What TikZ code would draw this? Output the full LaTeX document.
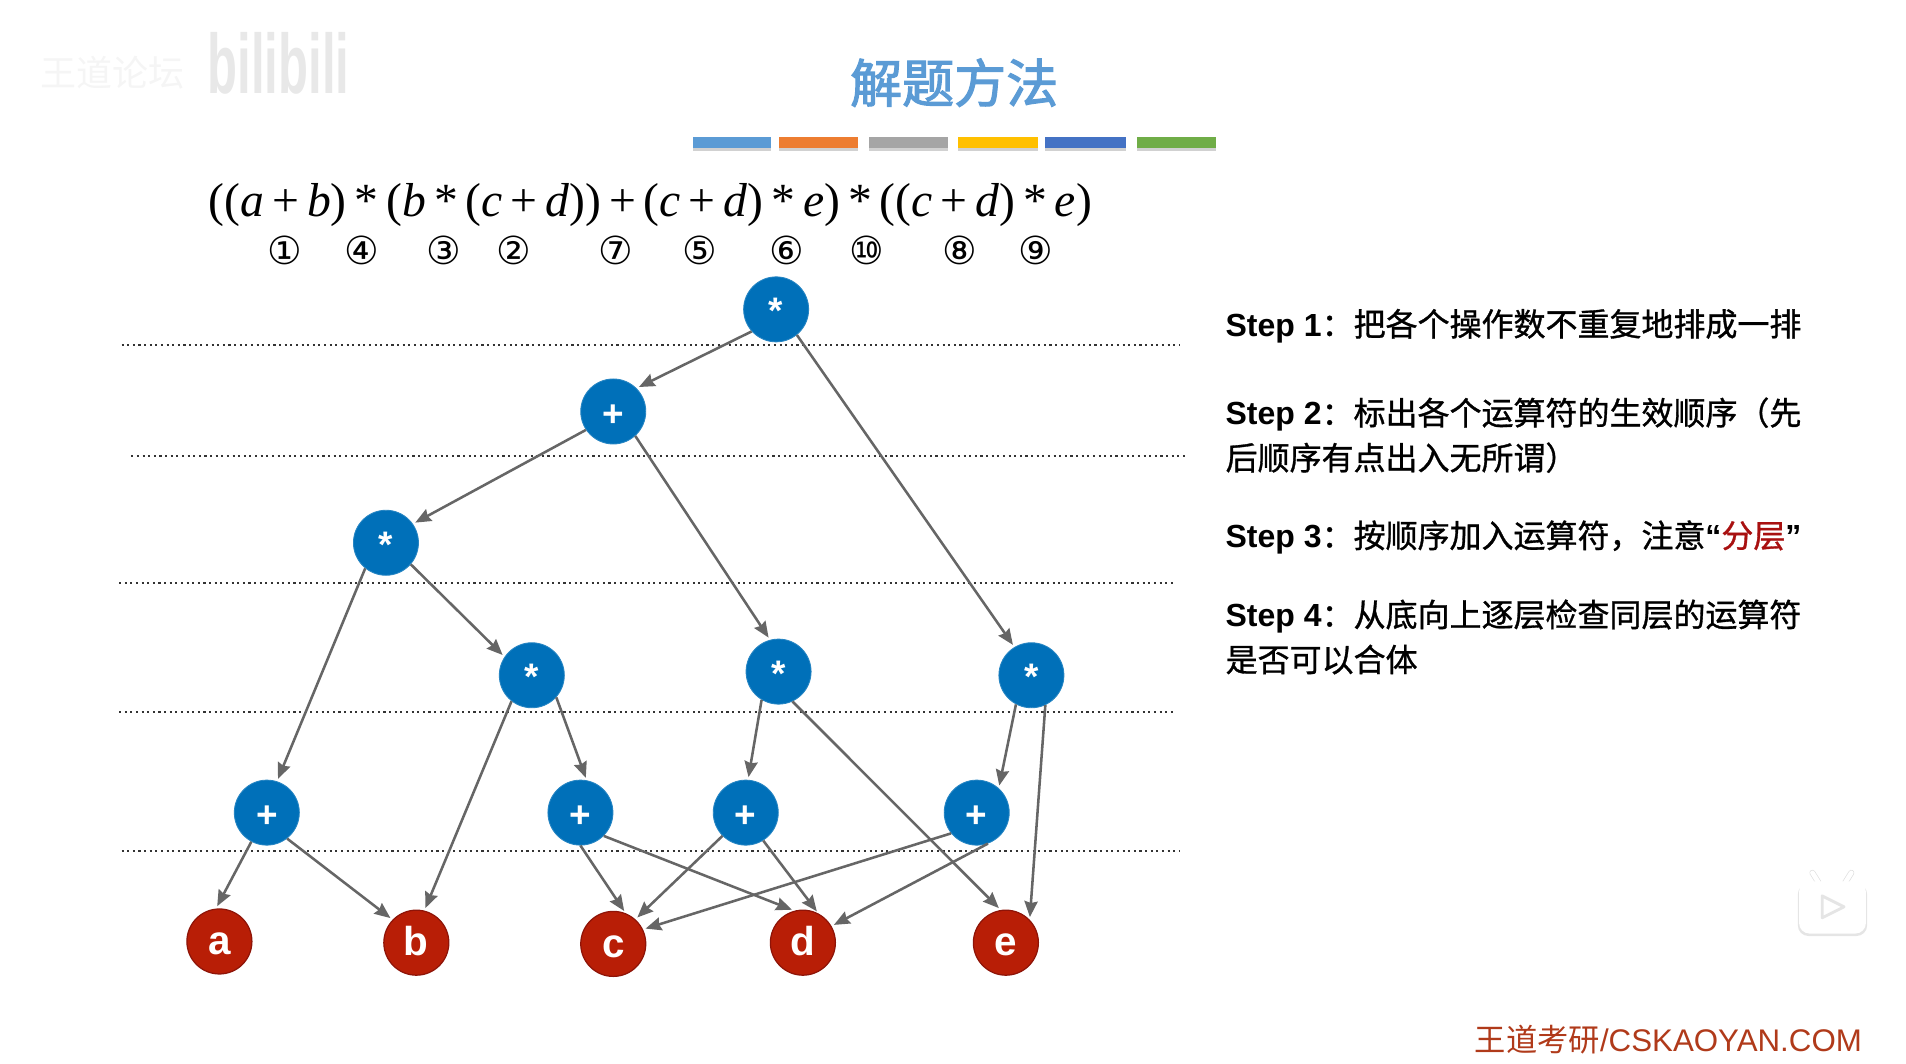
\documentclass[tikz,border=0pt]{standalone}
\usepackage{fontspec}
\setmainfont{Liberation Sans}
\newfontfamily\cjk[FakeBold=1]{Noto Sans CJK SC}
\newfontfamily\cjkhead[FakeBold=2.2]{Noto Sans CJK SC}
\newfontfamily\cjkplain{Noto Sans CJK SC}
\newfontfamily\formulafont{Liberation Serif}
\newfontfamily\circfont{DejaVu Sans}
\usepackage{xcolor}
\usetikzlibrary{arrows.meta}
\definecolor{opB}{HTML}{0070B9}
\definecolor{varR}{HTML}{B81E06}
\definecolor{varE}{HTML}{8E1408}
\definecolor{arrG}{HTML}{666666}
\definecolor{titleB}{HTML}{5B9BD5}
\definecolor{footR}{HTML}{B03A1A}
\definecolor{markR}{HTML}{A81010}
\tikzset{
  opnode/.style={circle, fill=opB, draw=opB!85!white, line width=0.5pt, minimum size=1.3cm,
    inner sep=0pt, text=white, text height=16.6pt, text depth=0pt, font=\fontsize{21}{24}\selectfont\bfseries},
  varnode/.style={circle, fill=varR, draw=varE, line width=0.7pt, minimum size=1.3cm,
    inner sep=0pt, text=white, text height=15pt, text depth=0pt, font=\fontsize{23}{26}\selectfont\bfseries},
  arr/.style={-{Stealth[length=9pt, width=7.5pt, inset=1pt]}, draw=arrG, line width=1.45pt, shorten >=1.5pt},
  levelline/.style={draw=black!80, line width=1.2pt, dash pattern=on 1.2pt off 2pt},
  stepnode/.style={anchor=west, align=left, inner sep=0pt, font=\fontsize{18.2}{25.6}\selectfont},
}
\newcommand{\stepcn}[2]{\textbf{Step #1}{\cjk #2}}
\begin{document}
\begin{tikzpicture}[x=0.24311mm, y=-0.24311mm]
  \useasboundingbox (0,0) rectangle (1568,875.3);
  % watermark
  \node[anchor=west, text=black!4, font=\fontsize{20.5}{22}\selectfont\cjkplain] (markWd) at (28,60) {王道论坛};
  \node[anchor=west, text=black!9, xscale=0.93, yscale=1.6, font=\fontsize{30}{32}\selectfont\bfseries] (markBl) at (166,52) {bilibili};
  % title and colour bars
  \node[text=titleB, font=\fontsize{29.6}{32}\selectfont\cjkhead] (title) at (785,68) {解题方法};
  \foreach \xa/\xb/\c in {570/634/5B9BD5,641/706/ED7D31,715/780/A5A5A5,788/854/FFC000,860/926/4472C4,935/1000/70AD47}{
    \definecolor{barC}{HTML}{\c}
    \fill[black!18] (\xa,115) rectangle (\xb,124);
    \fill[barC] (\xa,113) rectangle (\xb,122);
  }
  % expression
  \node[font=\fontsize{27.1}{30}\selectfont\formulafont] (expr) at (535,169)
    {((\textit{a}\,+\,\textit{b})\,*\,(\textit{b}\,*\,(\textit{c}\,+\,\textit{d}))\,+\,(\textit{c}\,+\,\textit{d})\,*\,\textit{e})\,*\,((\textit{c}\,+\,\textit{d})\,*\,\textit{e})};
  \foreach \x/\lab in {234/①,297/④,365/③,422/②,506/⑦,575/⑤,647/⑥,713/⑩,789/⑧,852/⑨}{
    \node[font=\fontsize{22}{24}\selectfont\circfont] at (\x+0.5,206) {\lab};
  }
  % level lines
  \foreach \y/\xa/\xb in {284/100/970,375/108/977,479.7/98/967,586/98/967,700/100/970}{
    \draw[levelline] (\xa,\y) -- (\xb,\y);
  }
  % operators
  \foreach \name/\x/\y/\lab in {mulRoot/638.5/254.5/*,addTop/504.5/338.5/+,mulLeft/317.5/446.5/*,mulMid/437.5/555.5/*,
      mulCen/640.5/552.5/*,mulRight/848.5/555.5/*,addA/219.5/668.5/+,addB/477.5/668.5/+,addC/613.5/668.5/+,addD/803.5/668.5/+}{
    \node[opnode] (\name) at (\x,\y) {\lab};
  }
  % operands
  \foreach \name/\x/\y/\lab in {varA/180.5/774.5/a,varB/342.5/775.5/b,varC/504.5/776.5/c,varD/660.5/775.5/d,varE/827.5/775.5/e}{
    \node[varnode] (\name) at (\x,\y) {\lab};
  }
  % edges
  \foreach \s/\sa/\t/\ta in {%
    mulRoot/222/addTop/45,
    mulRoot/309/mulRight/121,
    addTop/214/mulLeft/35,
    addTop/312/mulCen/105,
    mulLeft/231/addA/72,
    mulLeft/319/mulMid/146,
    mulMid/232/varB/76,
    mulMid/318/addB/79,
    mulCen/239/addC/86,
    mulCen/295/varE/99,
    mulRight/242/addD/48,
    mulRight/295/varE/44,
    addA/242/varA/96,
    addA/308/varB/136,
    addB/270/varC/68,
    addB/315/varD/105,
    addC/225/varC/48,
    addC/302/varD/62,
    addD/219/varC/26,
    addD/290/varD/30}{
    \draw[arr] (\s.\sa) -- (\t.\ta);
  }
  % steps
  \node[stepnode] (stepA) at (1008,268) {\stepcn{1}{：把各个操作数不重复地排成一排}};
  \node[stepnode] (stepB) at (1008,358) {\stepcn{2}{：标出各个运算符的生效顺序（先}\\{\cjk 后顺序有点出入无所谓）}};
  \node[stepnode] (stepC) at (1008,442) {\stepcn{3}{：按顺序加入运算符，注意}\textbf{“}{\cjk\color{markR}分层}\textbf{”}};
  \node[stepnode] (stepD) at (1008,524) {\stepcn{4}{：从底向上逐层检查同层的运算符}\\{\cjk 是否可以合体}};
  % play badge
  \draw[black!12, line width=3.4pt, line cap=round] (1496,726) -- (1491,718);
  \draw[black!12, line width=3.4pt, line cap=round] (1518,726) -- (1523,718);
  \draw[white, line width=2.6pt, line cap=round] (1496,726) -- (1491,718);
  \draw[white, line width=2.6pt, line cap=round] (1518,726) -- (1523,718);
  \fill[black!10, rounded corners=6pt] (1479,727) rectangle (1536,770);
  \fill[white, rounded corners=6pt] (1480,725) rectangle (1535,768);
  \draw[black!10, fill=white, line width=1.6pt, line join=round] (1499,737) -- (1499,755) -- (1517,746) -- cycle;
  % footer
  \node[anchor=east, inner sep=0pt, text=footR, font=\fontsize{17.8}{20}\selectfont] (footer) at (1532,855) {{\cjkplain 王道考研}/CSKAOYAN.COM};
\end{tikzpicture}
\end{document}
